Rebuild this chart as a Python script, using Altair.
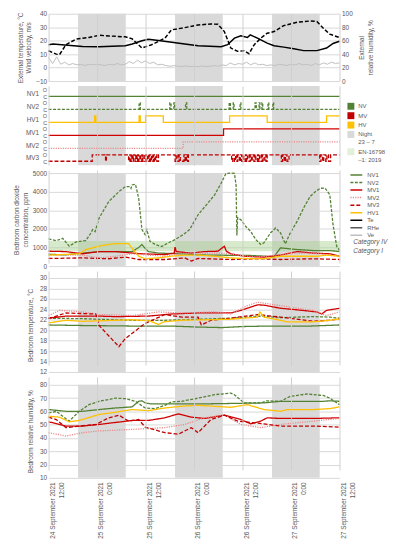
import altair as alt
import pandas as pd

FONT = "Liberation Sans"
TXT = "#595959"
GRID = "#D9D9D9"
W = 294

# ---------------- x axis ----------------
X_TICKS = [0, 12, 24, 36, 48, 60, 72]
X_DATES = ["24 September 2021", "25 September 2021", "25 September 2021", "26 September 2021",
           "26 September 2021", "27 September 2021", "27 September 2021"]
X_TIMES = ["12:00", "0:00", "12:00", "0:00", "12:00", "0:00", "12:00"]

NIGHT_START = [7.3, 31.3, 55.3]
NIGHT_END = [19.1, 43.1, 67.1]

# ---------------- series styling ----------------
SERIES = ["NV1", "NV2", "MV1", "MV2", "MV3", "HV1"]
SERIES_COLORS = ["#548235", "#548235", "#D00000", "#EA8A8A", "#C00000", "#FFC000"]
SERIES_DASH = [[1, 0], [3, 1.5], [1, 0], [1.2, 1.2], [4, 2], [1, 0]]
EXT_NAMES = ["Te", "RHe", "Ve"]
EXT_COLORS = ["#000000", "#595959", "#BFBFBF"]
EXT_DASH = [[1, 0], [1, 0], [1, 0]]

# ---------------- external conditions (hours from 24 Sep 12:00) ----------------
TE = [(0, 17.0), (1.1, 17.5), (8.4, 15.7), (12.5, 15.5), (19.0, 16.2), (20.7, 17.5), (23.1, 19.9),
      (24.7, 21.1), (27.2, 20.1), (30.5, 18.9), (33.7, 17.5), (37.0, 16.2), (42.7, 15.5), (44.3, 17.0),
      (46.0, 21.9), (47.6, 23.6), (49.2, 22.4), (49.9, 24.3), (51.7, 21.9), (54.1, 18.2), (55.8, 16.2),
      (58.2, 15.2), (60.7, 14.0), (63.1, 12.6), (66.4, 12.6), (68.8, 14.5), (70.4, 17.9), (72, 19.6)]
RHE = [(0, 45), (1.9, 40), (2.7, 39.2), (4.3, 54), (6.8, 62.3), (10.0, 64.7), (12.5, 68), (14.9, 67),
       (19.0, 65.7), (20.7, 62.7), (23.1, 49), (25.5, 54), (28.8, 63.7), (30.4, 76), (33.7, 79.4),
       (37.0, 83.3), (40.2, 84.8), (41.9, 84.3), (43.5, 73.5), (45.1, 49), (46.8, 44.1), (48.4, 45),
       (49.6, 40.7), (50.9, 54), (52.5, 63.7), (54.1, 71), (55.8, 73.5), (58.2, 82.4), (61.5, 87.3),
       (64.7, 89.2), (66.4, 88.5), (68.0, 78.4), (69.6, 69.6), (72, 64.7)]
VE = [7.5, 3, 8, 2.5, 4, 2, 3, 2, 2.5, 1.5, 2.5, 2, 2.5, 2, 1.5, 2.5, 2, 3, 2, 2.5, 4.5, 3, 5.5, 3.5,
      5, 3, 4, 2, 2.5, 1.5, 1, 1.5, 1, 0.8, 1.2, 0.7, 1, 0.6, 1.2, 0.8, 1, 1.5, 1, 2, 1.5, 3.5, 2, 3,
      2.5, 4, 2, 3.5, 2, 2.5, 1.5, 2, 1.5, 2.5, 2, 1.5, 2.5, 2, 3, 2, 2.5, 1.5, 3, 2, 3.5, 2.5, 4, 3, 3.5]

# ---------------- ventilation status: (hour, state) 1 = open ----------------
STATUS_ROWS = ["MV3", "MV2", "MV1", "HV1", "NV2", "NV1"]
ST_NV1 = [(0, 0), (72, 0)]
ST_NV2 = [(0, 0), (22.4, 1), (22.7, 0), (30.0, 1), (30.3, 0), (31.0, 1), (31.2, 0), (33.9, 1), (34.2, 0),
          (44.7, 1), (45.0, 0), (45.7, 1), (45.9, 0), (47.4, 1), (47.6, 0), (51.1, 1), (51.4, 0), (52.1, 1),
          (52.3, 0), (52.8, 1), (53.0, 0), (54.3, 1), (54.5, 0), (55.5, 1), (55.7, 0), (72, 0)]
ST_HV1 = [(0, 0), (11.4, 1), (11.7, 0), (22.4, 1), (22.7, 0), (24.0, 1), (28.4, 0), (44.8, 1), (54.1, 0),
          (68.8, 1), (72, 1)]
ST_MV1 = [(0, 0), (43.3, 1), (72, 1)]
ST_MV2 = [(0, 0), (33.3, 1), (72, 1)]
ST_MV3 = [(0, 0), (10.8, 1), (14.1, 0), (14.3, 1), (19.8, 0), (20.1, 1), (20.4, 0), (20.6, 1), (20.9, 0),
          (21.0, 1), (21.4, 0), (21.6, 1), (21.9, 0), (22.0, 1), (22.3, 0), (22.6, 1), (22.8, 0), (23.1, 1),
          (23.3, 0), (23.4, 1), (23.8, 0), (24.0, 1), (24.2, 0), (24.5, 1), (24.8, 0), (25.0, 1), (25.3, 0),
          (25.5, 1), (25.8, 0), (26.0, 1), (26.2, 0), (26.5, 1), (26.8, 0), (27.2, 1), (31.3, 0), (31.6, 1),
          (32.0, 0), (32.3, 1), (32.6, 0), (33.5, 1), (33.8, 0), (34.1, 1), (34.4, 0), (34.6, 1), (45.3, 0),
          (45.6, 1), (46.0, 0), (46.3, 1), (46.6, 0), (46.8, 1), (47.2, 0), (47.5, 1), (47.8, 0), (48.1, 1),
          (48.3, 0), (48.7, 1), (49.0, 0), (49.2, 1), (49.6, 0), (49.9, 1), (50.2, 0), (50.4, 1), (50.8, 0),
          (51.1, 1), (51.3, 0), (51.7, 1), (52.0, 0), (52.2, 1), (52.6, 0), (52.9, 1), (53.1, 0), (53.5, 1),
          (53.8, 0), (54.1, 1), (57.6, 0), (57.9, 1), (58.3, 0), (58.6, 1), (59.0, 0), (59.5, 1), (67.1, 0),
          (67.4, 1), (67.8, 0), (68.1, 1), (68.6, 0), (68.9, 1), (69.3, 0), (69.8, 1), (72, 1)]

LEG2_NAMES = ["NV", "MV", "HV", "Night|23 \u2013 7", "EN-16798|\u20131: 2019"]
LEG2_COLORS = ["#548235", "#C00000", "#FFC000", "#D9D9D9", "#E2F0D9"]

# ---------------- CO2 (ppm) ----------------
CO2_NV1 = [(0, 640), (4, 600), (8.4, 700), (12.5, 780), (20.7, 780), (22.3, 1000), (23.1, 1160), (23.9, 950),
           (24.7, 780), (27.2, 700), (32.9, 660), (37, 600), (45, 580), (50, 570), (55.8, 510), (57.4, 980),
           (61.5, 890), (65.5, 835), (69.6, 835), (72, 780)]
CO2_NV2 = [(0, 1460), (1.9, 1370), (3.5, 1490), (5.1, 1070), (6.8, 1300), (9.2, 1370), (10.4, 1750),
           (10.9, 1960), (11.5, 1850), (12.5, 2580), (14.9, 3470), (17.4, 4000), (19.0, 4270), (20.2, 4270),
           (20.4, 4180), (20.65, 4360), (21.5, 4400), (22.3, 3650), (23.1, 1960), (23.9, 1690), (24.3, 1960),
           (25.1, 1335), (26.4, 1160), (28.0, 1050), (29.6, 1250), (31.3, 1420), (33.3, 1690), (34.9, 1960),
           (37.0, 2760), (39.4, 3380), (41.1, 3830), (42.7, 4450), (43.9, 4980), (45.1, 5000), (46.0, 4980),
           (46.4, 4360), (46.6, 1650), (46.8, 2600), (47.6, 2490), (48.8, 2130), (50.0, 1870), (51.3, 1420),
           (52.5, 1160), (53.3, 1250), (54.9, 1780), (56.2, 2050), (57.4, 1780), (58.6, 1195), (59.8, 1780),
           (61.5, 2400), (63.1, 3115), (64.7, 3735), (66.0, 4000), (67.2, 4180), (68.4, 4200), (69.6, 3830),
           (70.4, 2225), (71.3, 1070), (72, 850)]
CO2_MV1 = [(0, 800), (4.3, 780), (8.4, 660), (12.5, 780), (16.6, 780), (20.65, 700), (23.1, 660), (28.8, 620),
           (31.1, 700), (31.3, 1020), (31.6, 780), (35.3, 700), (38.6, 780), (41.9, 800), (43.5, 1070),
           (44.0, 800), (45.1, 660), (48.4, 530), (53.3, 480), (57.4, 590), (61.5, 780), (65.5, 700),
           (69.6, 660), (72, 530)]
CO2_MV2 = [(0, 590), (8.4, 590), (12.5, 440), (16.6, 530), (20.65, 660), (24.7, 590), (28.8, 530), (33.7, 700),
           (38.6, 700), (43.5, 700), (46.8, 590), (51.7, 480), (57.4, 620), (61.5, 700), (65.5, 700),
           (69.6, 590), (72, 530)]
CO2_MV3 = [(0, 410), (8.4, 440), (14.9, 395), (19, 480), (22.3, 355), (28.8, 355), (33.7, 440), (35.3, 270),
           (37, 410), (45.1, 355), (51.7, 395), (57.4, 355), (65.5, 395), (72, 355)]
CO2_HV1 = [(0, 590), (7.6, 660), (9.2, 890), (12.5, 1070), (14.9, 1160), (16.6, 1210), (19.8, 1210),
           (20.65, 960), (22.3, 530), (23.9, 395), (27.2, 440), (30.4, 530), (33.7, 590), (37, 590),
           (41.1, 530), (45.1, 440), (48.4, 410), (53.3, 395), (57.4, 530), (61.5, 530), (66.4, 530),
           (68.8, 590), (72, 530)]
EN_BAND = [800, 1350]
CATEGORY_LABELS = ["Category IV", "Category I"]
CATEGORY_VALUES = [1320, 800]

# ---------------- bedroom temperature (°C) ----------------
T_NV1 = [(0, 21.0), (8, 20.9), (20, 20.8), (30, 20.8), (37, 20.6), (43, 20.5), (48, 20.7), (55, 20.8),
         (65, 20.8), (72, 21.0)]
T_NV2 = [(0, 22.3), (8.4, 22.2), (20.65, 21.9), (28.8, 21.9), (37, 22.1), (45.1, 22.3), (52.5, 22.7),
         (57.4, 22.4), (65.5, 22.6), (69.6, 22.5), (72, 22.3)]
T_MV1 = [(0, 22.3), (4.3, 22.7), (12.5, 22.7), (16.6, 22.6), (24.7, 22.7), (30.4, 23.1), (37, 23.3),
         (45.1, 23.3), (47.6, 23.8), (51.7, 24.85), (53.3, 24.8), (57.4, 24.2), (61.5, 23.9), (66.4, 23.5),
         (67.6, 23.1), (68.8, 23.8), (72, 24.2)]
T_MV2 = [(0, 22.8), (2.7, 23.8), (8.4, 23.5), (12.5, 23.0), (20.65, 22.8), (27.2, 23.5), (32.9, 23.3),
         (41.1, 23.5), (45.1, 23.1), (49.2, 24.7), (51.7, 25.35), (57.4, 24.7), (61.5, 24.2), (65.5, 23.8),
         (68.8, 22.8), (72, 23.5)]
T_MV3 = [(0, 22.2), (4.3, 23.3), (11.7, 23.1), (12.5, 20.9), (17.4, 16.85), (19.0, 18.4), (23.9, 21.3),
         (28.8, 23.0), (32.9, 22.5), (37, 22.5), (37.8, 21.0), (40.2, 21.9), (45.1, 22.3), (51.7, 23.0),
         (57.4, 22.5), (65.5, 21.7), (69.6, 21.9), (72, 22.2)]
T_HV1 = [(0, 21.4), (4.3, 21.9), (8.4, 21.7), (20.65, 22.0), (25, 21.8), (27.2, 21.1), (28.5, 21.6),
         (32.9, 21.9), (45.1, 22.1), (51.7, 22.5), (52.3, 23.5), (53.3, 22.5), (57.4, 21.9), (59, 21.6),
         (65.5, 21.6), (69.6, 21.9), (72, 22.2)]

# ---------------- bedroom relative humidity (%) ----------------
RH_NV1 = [(0, 61.4), (4.3, 60.1), (8.4, 60.1), (12.5, 61.4), (16.6, 62.6), (20.65, 63.4), (22.3, 67.6),
          (23.1, 68), (23.9, 66.4), (25.5, 65.6), (37, 65.6), (53.3, 66.4), (57.4, 67.6), (68, 67.6),
          (69.6, 68), (72, 67.6)]
RH_NV2 = [(0, 58.9), (1.9, 60), (5.1, 52.7), (7.6, 60.1), (10, 65.1), (12.5, 67.6), (16.6, 70), (19, 69.6),
          (21.5, 67.6), (23.9, 62.6), (26.4, 62.1), (28.8, 64.6), (30.4, 67.1), (32.9, 67.6), (37, 70),
          (41.1, 72.6), (45.1, 73.8), (46, 72.5), (48.4, 66.4), (52.5, 66.4), (54.1, 68), (57.4, 67.6),
          (59.8, 71.3), (63.9, 73.1), (68, 72), (69.6, 70), (72, 65.1)]
RH_MV1 = [(0, 52.2), (4.3, 49), (8.4, 49), (12.5, 50.2), (20.65, 53.2), (24.7, 53.2), (28.8, 55.2),
          (32.1, 58.2), (35.3, 55.7), (38.6, 54.7), (43.5, 57.2), (47.6, 53.9), (50, 50.7), (52.5, 52.7),
          (54.1, 55.2), (57.4, 54.7), (65.5, 54.7), (72, 55.2)]
RH_MV2 = [(0, 44), (4.3, 41.5), (8.4, 44), (12.5, 45.3), (20.65, 46.5), (28.8, 47.8), (33.7, 50.2),
          (38.6, 55.2), (43.5, 57.2), (47.6, 50.2), (52.5, 47.8), (57.4, 50.2), (65.5, 52.7), (72, 54.7)]
RH_MV3 = [(0, 55.7), (1.9, 53.9), (4.3, 47.8), (7.6, 49), (11.7, 50.2), (14.9, 55.2), (17.4, 57.2),
          (19.8, 52.7), (22.3, 53.9), (23.9, 48.2), (28.8, 44), (32.1, 42.8), (35.3, 47.8), (37, 44),
          (40.2, 53.9), (43.5, 57.2), (46.8, 52.7), (53.3, 50.7), (57.4, 49), (65.5, 49), (72, 48.2)]
RH_HV1 = [(0, 56.4), (2.7, 55.7), (5.1, 52.2), (7.6, 53.2), (12.5, 57.7), (16.6, 59.4), (20.65, 61.4),
          (24.7, 60.6), (28.8, 62.6), (32.9, 63.9), (37, 64.6), (45.1, 63.1), (49.2, 65.1), (53.3, 61.4),
          (57.4, 60.1), (59, 61.4), (65.5, 61.4), (69.6, 62.1), (72, 63.4)]


# ================= helpers =================
def pairs_df(p):
    return pd.DataFrame(p, columns=["h", "v"])


def long_df(named):
    frames = []
    for name, p in named:
        d = pairs_df(p)
        d["series"] = name
        frames.append(d)
    return pd.concat(frames, ignore_index=True)


label_arr = "[" + ",".join("['%s','%s']" % (d, t) for d, t in zip(X_DATES, X_TIMES)) + "]"


def xenc(field, bottom=False):
    if bottom:
        axis = alt.Axis(values=X_TICKS, labelExpr=label_arr + "[round(datum.value/12)]", labelAngle=270,
                        labelAlign="right", labelBaseline="middle", labelPadding=4, labelOffset=4,
                        labelLineHeight=9, labelFontSize=6.5, ticks=False, domain=False, grid=True,
                        gridColor="#CFCFCF", title=None, zindex=1, labelOverlap=False, labelFlush=False)
    else:
        axis = alt.Axis(values=X_TICKS, labels=False, ticks=False, domain=False, grid=True,
                        gridColor="#CFCFCF", title=None, zindex=1)
    return alt.X(f"{field}:Q", scale=alt.Scale(domain=[0, 72], nice=False, zero=False), axis=axis)


def night(yscale=None, yaxis_def=None, lo=None, hi=None, bottom=False):
    df = pd.DataFrame({"s": NIGHT_START, "e": NIGHT_END})
    if yscale is None:
        return alt.Chart(df).mark_rect(color="#D9D9D9").encode(x=xenc("s", bottom), x2="e:Q")
    df["lo"] = lo
    df["hi"] = hi
    return alt.Chart(df).mark_rect(color="#D9D9D9").encode(
        x=xenc("s", bottom), x2="e:Q", y=alt.Y("lo:Q", scale=yscale, axis=yaxis_def), y2="hi:Q")


ALL_NAMES = SERIES + EXT_NAMES
ALL_COLORS = SERIES_COLORS + EXT_COLORS
ALL_DASH = SERIES_DASH + EXT_DASH


def series_lines(df, y, legend=None, bottom=False, width=1.3):
    return alt.Chart(df).mark_line(strokeWidth=width).encode(
        x=xenc("h", bottom), y=y,
        stroke=alt.Stroke("series:N", scale=alt.Scale(domain=ALL_NAMES, range=ALL_COLORS), legend=legend),
        strokeDash=alt.StrokeDash("series:N", scale=alt.Scale(domain=ALL_NAMES, range=ALL_DASH), legend=legend),
        order=alt.Order("h:Q"),
    )


def yaxis(values, title, pad=4, fmt="d"):
    return alt.Axis(values=values, grid=True, title=title, titlePadding=pad, format=fmt,
                    labelOverlap=False, labelFlush=False)


# ================= panel 1: external =================
left_scale = alt.Scale(domain=[-10, 40], nice=False, zero=False)
left_y = alt.Y("v:Q", scale=left_scale,
               axis=yaxis([-10, 0, 10, 20, 30, 40], ["External temperature, \u00b0C", "Wind velocity, m/s"]))
ve_df = pd.DataFrame({"h": list(range(len(VE))), "v": VE})
ve_line = alt.Chart(ve_df).mark_line(color="#BFBFBF", strokeWidth=1).encode(x=xenc("h"), y=left_y)
te_line = alt.Chart(pairs_df(TE)).mark_line(color="#000000", strokeWidth=1.5).encode(x=xenc("h"), y=left_y)
rhe_line = alt.Chart(pairs_df(RHE)).mark_line(color="#000000", strokeWidth=1.5, strokeDash=[4, 2]).encode(
    x=xenc("h"),
    y=alt.Y("v:Q", scale=alt.Scale(domain=[0, 100], nice=False, zero=False),
            axis=alt.Axis(orient="right", values=[0, 20, 40, 60, 80, 100], grid=False, format="d",
                          labelOverlap=False, labelFlush=False,
                          title=["External", "relative humidity, %"], titleAngle=270, titlePadding=4)),
)
top = alt.layer(alt.layer(night(), ve_line, te_line), rhe_line).resolve_scale(y="independent").properties(
    width=W, height=68)

# ================= panel 2: status =================
status_src = {"NV1": ST_NV1, "NV2": ST_NV2, "HV1": ST_HV1, "MV1": ST_MV1, "MV2": ST_MV2, "MV3": ST_MV3}
rows = []
for name in SERIES:
    base = 2 * STATUS_ROWS.index(name)
    for h, s in status_src[name]:
        rows.append({"series": name, "h": h, "y": base + s})
status_df = pd.DataFrame(rows)
st_scale = alt.Scale(domain=[-0.6, 11.6], nice=False, zero=False)
row_names_arr = "[" + ",".join("'%s'" % r for r in STATUS_ROWS) + "]"
st_values = []
for i in range(len(STATUS_ROWS)):
    st_values += [2 * i, 2 * i + 0.5, 2 * i + 1]
is_name = "datum.value % 1 != 0"
status_axis = alt.Axis(
    values=st_values,
    labelExpr=f"{is_name} ? {row_names_arr}[floor(datum.value/2)] : (datum.value % 2 == 1 ? 'O' : 'C')",
    title=None, grid=False, labelOverlap=False, labelFlush=False,
    labelPadding={"condition": {"test": is_name, "value": 10}, "value": 2},
    labelFontSize={"condition": {"test": is_name, "value": 6.5}, "value": 5.5},
)
status_lines = alt.Chart(status_df).mark_line(interpolate="step-after", strokeWidth=1.3).encode(
    x=xenc("h"),
    y=alt.Y("y:Q", scale=st_scale, axis=status_axis),
    stroke=alt.Stroke("series:N", scale=alt.Scale(domain=ALL_NAMES, range=ALL_COLORS), legend=None),
    strokeDash=alt.StrokeDash("series:N", scale=alt.Scale(domain=ALL_NAMES, range=ALL_DASH), legend=None),
    order=alt.Order("h:Q"),
)
leg2_df = pd.DataFrame({"cat": LEG2_NAMES})
leg2 = alt.Chart(leg2_df).transform_filter("false").mark_square(size=49, opacity=1).encode(
    fill=alt.Fill("cat:N", scale=alt.Scale(domain=LEG2_NAMES, range=LEG2_COLORS),
                  legend=alt.Legend(title=None, orient="none", legendX=W + 8, legendY=17, symbolType="square",
                                    symbolSize=49, symbolStrokeWidth=0, labelFontSize=6,
                                    labelExpr="split(datum.label, '|')", rowPadding=2.5, labelOffset=4,
                                    labelLimit=60)),
)
status = alt.layer(night(), status_lines, leg2).properties(width=W, height=80)

# ================= panel 3: CO2 =================
co2_df = long_df([("NV1", CO2_NV1), ("NV2", CO2_NV2), ("MV1", CO2_MV1), ("MV2", CO2_MV2),
                  ("MV3", CO2_MV3), ("HV1", CO2_HV1)])
co2_scale = alt.Scale(domain=[0, 5000], nice=False, zero=False, range=[97, 3])
co2_axis = yaxis([0, 1000, 2000, 3000, 4000, 5000], ["Bedroom carbon dioxide", "concentration, ppm"])
co2_y = alt.Y("v:Q", scale=co2_scale, axis=co2_axis)
co2_legend = alt.Legend(title=None, orient="none", legendX=W + 13, legendY=1, symbolType="M-2,0H2",
                        symbolSize=36, symbolStrokeWidth=1.5, labelFontSize=6, rowPadding=0.6,
                        labelOffset=7)
band_df = pd.DataFrame({"lo": [EN_BAND[0]], "hi": [EN_BAND[1]]})
band = alt.Chart(band_df).mark_rect(color="#A9D18E", opacity=0.45).encode(
    y=alt.Y("lo:Q", scale=co2_scale, axis=co2_axis), y2="hi:Q")
cat_df = pd.DataFrame({"t": CATEGORY_LABELS, "v": CATEGORY_VALUES})
cat_text = alt.Chart(cat_df).mark_text(align="left", fontStyle="italic", fontSize=6.5, color=TXT,
                                       font=FONT).encode(x=alt.value(W + 14),
                                                         y=alt.Y("v:Q", scale=co2_scale, axis=co2_axis),
                                                         text="t:N")
co2 = alt.layer(night(co2_scale, co2_axis, 0, 5000), band, series_lines(co2_df, co2_y, legend=co2_legend),
                cat_text).properties(width=W, height=97)

# ================= panel 4: temperature =================
t_df = long_df([("NV1", T_NV1), ("NV2", T_NV2), ("MV1", T_MV1), ("MV2", T_MV2), ("MV3", T_MV3), ("HV1", T_HV1)])
t_scale = alt.Scale(domain=[12, 30], nice=False, zero=False, range=[102, 7])
t_axis = yaxis(list(range(12, 31, 2)), "Bedroom temperature, \u00b0C", pad=6)
t_y = alt.Y("v:Q", scale=t_scale, axis=t_axis)
temp = alt.layer(night(t_scale, t_axis, 12, 30), series_lines(t_df, t_y)).properties(width=W, height=102)

# ================= panel 5: relative humidity =================
rh_df = long_df([("NV1", RH_NV1), ("NV2", RH_NV2), ("MV1", RH_MV1), ("MV2", RH_MV2), ("MV3", RH_MV3),
                 ("HV1", RH_HV1)])
rh_scale = alt.Scale(domain=[10, 80], nice=False, zero=False, range=[102, 8])
rh_axis = yaxis(list(range(10, 81, 10)), "Bedroom relative humidity, %", pad=6)
rh_y = alt.Y("v:Q", scale=rh_scale, axis=rh_axis)
rh = alt.layer(night(rh_scale, rh_axis, 10, 80, bottom=True), series_lines(rh_df, rh_y, bottom=True)).properties(
    width=W, height=102)

chart = alt.vconcat(top, status, co2, temp, rh, spacing=5, bounds="flush").resolve_scale(
    stroke="independent", strokeDash="independent", fill="independent"
).resolve_legend(
    stroke="independent", strokeDash="independent", fill="independent"
).properties(
    padding={"left": 6, "top": 0, "right": 0, "bottom": 0}
).configure(font=FONT).configure_axis(
    labelFont=FONT, titleFont=FONT, labelFontSize=6.5, titleFontSize=6.5, labelColor=TXT, titleColor=TXT,
    titleFontWeight="normal", gridColor=GRID, gridWidth=1, domain=False, ticks=False
).configure_legend(labelFont=FONT, labelColor=TXT, labelFontSize=6.5).configure_view(stroke=None)

chart.save("out.html", embed_options={"renderer": "svg", "actions": False})
